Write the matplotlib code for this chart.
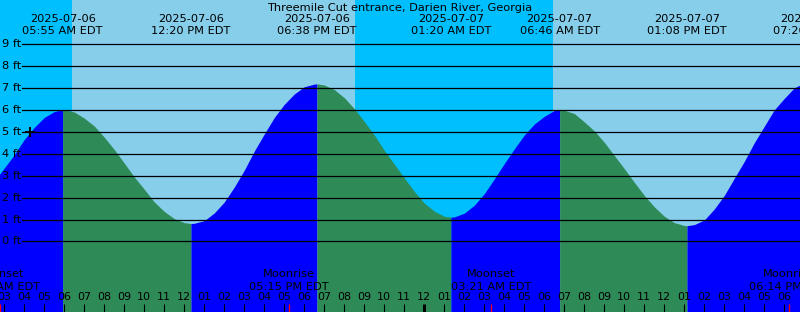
import matplotlib
matplotlib.use('Agg')
import numpy as np
import matplotlib.pyplot as plt
import matplotlib.transforms as mtransforms

#==========================================================
# Data (time = hours after 2025-07-06 00:00 EDT, height in ft)
#==========================================================
title = 'Threemile Cut entrance, Darien River, Georgia'

# tide height every half hour, from 02:00 to 19:00 next day
times = [2 + 0.5*i for i in range(83)]
heights = [2.25, 2.75, 3.35, 3.95, 4.65, 5.2, 5.65, 5.92, 6.0, 5.9,    # 02:00-06:30
           5.62, 5.26, 4.75, 4.19, 3.57, 2.94, 2.38, 1.8, 1.37, 1.04,  # 07:00-11:30
           0.86, 0.83, 0.95, 1.3, 1.8, 2.48, 3.25, 4.12, 4.9, 5.65,    # 12:00-16:30
           6.25, 6.72, 7.05, 7.17, 7.13, 6.92, 6.55, 6.05, 5.47, 4.85, # 17:00-21:30
           4.15, 3.52, 2.9, 2.28, 1.75, 1.38, 1.15, 1.12, 1.29, 1.65,  # 22:00-02:30
           2.18, 2.85, 3.55, 4.22, 4.85, 5.35, 5.7, 5.97, 5.98, 5.83,  # 03:00-07:30
           5.45, 5.04, 4.52, 3.92, 3.32, 2.7, 2.1, 1.58, 1.15, 0.86,   # 08:00-12:30
           0.73, 0.77, 0.98, 1.48, 2.1, 2.88, 3.65, 4.5, 5.25, 6.0,    # 13:00-17:30
           6.52, 7.0, 7.22]                                            # 18:00-19:00

# high / low tides
ext_time = [5+55/60, 12+20/60, 18+38/60, 25+20/60, 30+46/60, 37+8/60, 43+26/60]
ext_height = [6.0, 0.82, 7.18, 1.11, 6.0, 0.72, 7.3]
ext_date = ['2025-07-06', '2025-07-06', '2025-07-06', '2025-07-07',
            '2025-07-07', '2025-07-07', '2025-07-07']
ext_clock = ['05:55 AM EDT', '12:20 PM EDT', '06:38 PM EDT', '01:20 AM EDT',
             '06:46 AM EDT', '01:08 PM EDT', '07:26 PM EDT']

# sun: daylight intervals
day_start = [6+23/60, 30+26/60]
day_end = [20+32/60, 48.0]

# moon events
moon_time = [2+46/60, 17+15/60, 27+21/60, 42+14/60]
moon_name = ['Moonset', 'Moonrise', 'Moonset', 'Moonrise']
moon_clock = ['02:46 AM EDT', '05:15 PM EDT', '03:21 AM EDT', '06:14 PM EDT']

# current time marker
now_time = 4+17/60
now_height = 5.0

ft_ticks = list(range(0, 10))

#==========================================================
# plot
#==========================================================
W, H = 800, 312
fig = plt.figure(figsize=(W/100, H/100), dpi=100)
ax = fig.add_axes([0, 0, 1, 1])
ax.set_axis_off()

x0, x1 = 2.785, 42.785
y_top, y_bot = 11.002, -3.212
ax.set_xlim(x0, x1)
ax.set_ylim(y_bot, y_top)

fs = 8.2

def ypix(p):
    # pixel row -> axes fraction
    return 1 - p / H

tr = mtransforms.blended_transform_factory(ax.transData, ax.transAxes)

# background: night / day
ax.axvspan(x0 - 5, x1 + 5, color='#00BFFF', zorder=0, lw=0)
for s, e in zip(day_start, day_end):
    ax.axvspan(s, e, color='#87CEEB', zorder=0.5, lw=0)

# tide curve, rising blue / falling green
t_all = np.array(times + ext_time, dtype=float)
h_all = np.array(heights + ext_height, dtype=float)
order = np.argsort(t_all)
t_all, h_all = t_all[order], h_all[order]

bounds = [t_all[0]] + ext_time
for i in range(len(ext_time)):
    a, b = bounds[i], bounds[i+1]
    m = (t_all >= a) & (t_all <= b)
    ref = ext_height[i-1] if i > 0 else ext_height[1]
    rising = ext_height[i] > ref
    col = '#0000FF' if rising else '#2E8B57'
    ax.fill_between(t_all[m], y_bot - 1, h_all[m], color=col, lw=0, zorder=1)

# depth lines and labels
xl = (22 + 55.7) / 20
for f in ft_ticks:
    ax.plot([xl, x1 + 1], [f, f], color='black', lw=0.9, zorder=2)
    ax.text(x0 + 2.5/20, f, '%d ft' % f, fontsize=fs, ha='left', va='center', zorder=3)

# title and tide labels
ax.text(0.5, ypix(8), title, transform=ax.transAxes, fontsize=fs,
        ha='center', va='center', zorder=3)
for t, d, c in zip(ext_time, ext_date, ext_clock):
    ax.text(t, ypix(19.5), d, transform=tr, fontsize=fs, ha='center', va='center', zorder=3)
    ax.text(t, ypix(31.5), c, transform=tr, fontsize=fs, ha='center', va='center', zorder=3)

# hour ticks
for h in range(3, 43):
    lab = '%02d' % ((h - 1) % 12 + 1)
    ax.text(h, ypix(297), lab, transform=tr, fontsize=8, ha='center', va='center', zorder=3)
    lw = 2.2 if h % 24 == 0 else 0.8
    ax.plot([h, h], [ypix(304), ypix(313)], transform=tr, color='black', lw=lw,
            solid_capstyle='butt', zorder=3)

# moon events
for t, n, c in zip(moon_time, moon_name, moon_clock):
    ax.text(t, ypix(274), n, transform=tr, fontsize=fs, ha='center', va='center', zorder=3)
    ax.text(t, ypix(286.5), c, transform=tr, fontsize=fs, ha='center', va='center', zorder=3)
    ax.plot([t, t], [ypix(304), ypix(313)], transform=tr, color='red', lw=0.9,
            solid_capstyle='butt', zorder=4)

# now marker
ax.plot(now_time, now_height, marker='+', color='black', ms=7, mew=1.4, zorder=4)

fig.savefig('out.png', dpi=100)
